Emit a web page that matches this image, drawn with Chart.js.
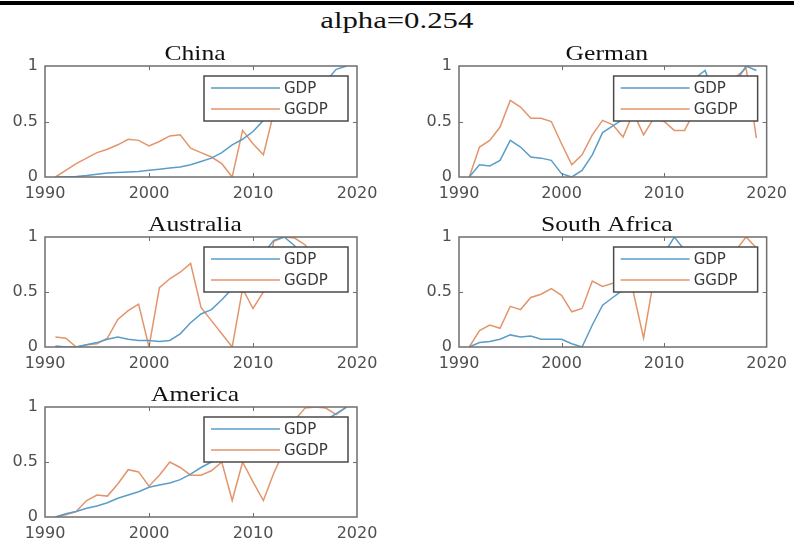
<!DOCTYPE html>
<html>
<head>
<meta charset="utf-8">
<script src="https://cdn.jsdelivr.net/npm/chart.js@4.4.1/dist/chart.umd.min.js"></script>
<style>
  html, body { margin: 0; padding: 0; background: #fff; overflow: hidden; }
  #page { position: relative; width: 794px; height: 545px; background: #fff; }
  #rule { position: absolute; left: 0; top: 1px; width: 794px; height: 4px; background: #000; }
  #suptitle { position: absolute; left: 0; top: 7px; width: 794px; text-align: center;
              font: 24px "Liberation Serif", serif; color: #111; }
  #suptitle span { display: inline-block; transform: scaleX(1.28); }
  canvas { position: absolute; }
</style>
</head>
<body>
<div id="page">
  <div id="rule"></div>
  <div id="suptitle"><span>alpha=0.254</span></div>
  <canvas id="c0"></canvas>
  <canvas id="c1"></canvas>
  <canvas id="c2"></canvas>
  <canvas id="c3"></canvas>
  <canvas id="c4"></canvas>
</div>
<script>
// Years covered by every series
const years = [1991, 1992, 1993, 1994, 1995, 1996, 1997, 1998, 1999, 2000,
               2001, 2002, 2003, 2004, 2005, 2006, 2007, 2008, 2009, 2010,
               2011, 2012, 2013, 2014, 2015, 2016, 2017, 2018, 2019];

// Axis ticks
const xTicks = [1990, 2000, 2010, 2020];
const yTicks = [0, 0.5, 1];

// Series names
const seriesNames = ['GDP', 'GGDP'];

// Normalised series per country
const chinaGDP  = [0, 0.003, 0.004, 0.013, 0.025, 0.035, 0.04, 0.046, 0.05, 0.06,
                   0.07, 0.08, 0.09, 0.11, 0.14, 0.17, 0.22, 0.29, 0.34, 0.41,
                   0.51, 0.58, 0.66, 0.73, 0.77, 0.78, 0.86, 0.97, 1.0];
const chinaGGDP = [0, 0.06, 0.12, 0.17, 0.22, 0.25, 0.29, 0.34, 0.33, 0.28,
                   0.32, 0.37, 0.38, 0.26, 0.22, 0.18, 0.12, 0, 0.42, 0.3,
                   0.2, 0.58, 0.62, 0.7, 0.74, 0.72, 0.8, 0.86, 0.9];

const germanGDP  = [0, 0.11, 0.10, 0.15, 0.33, 0.27, 0.18, 0.17, 0.15, 0.03,
                    0, 0.06, 0.2, 0.4, 0.46, 0.52, 0.72, 0.89, 0.73, 0.73,
                    0.89, 0.79, 0.89, 0.96, 0.71, 0.76, 0.86, 1.0, 0.96];
const germanGGDP = [0, 0.27, 0.33, 0.45, 0.69, 0.63, 0.53, 0.53, 0.5, 0.3,
                    0.11, 0.2, 0.38, 0.51, 0.47, 0.36, 0.58, 0.38, 0.53, 0.5,
                    0.42, 0.42, 0.6, 0.7, 0.75, 0.8, 0.9, 0.98, 0.35];

const australiaGDP  = [0.01, 0, 0, 0.02, 0.04, 0.07, 0.09, 0.07, 0.06, 0.06,
                       0.05, 0.06, 0.12, 0.22, 0.3, 0.34, 0.43, 0.53, 0.5, 0.65,
                       0.85, 0.97, 1.0, 0.92, 0.75, 0.74, 0.83, 0.88, 0.82];
const australiaGGDP = [0.09, 0.08, 0, 0.02, 0.03, 0.08, 0.25, 0.33, 0.39, 0,
                       0.54, 0.62, 0.68, 0.76, 0.36, 0.24, 0.12, 0, 0.53, 0.35,
                       0.5, 0.96, 1.0, 0.99, 0.93, 0.8, 0.75, 0.7, 0.72];

const southAfricaGDP  = [0, 0.04, 0.05, 0.07, 0.11, 0.09, 0.1, 0.07, 0.07, 0.07,
                         0.03, 0, 0.2, 0.38, 0.45, 0.52, 0.6, 0.55, 0.6, 0.85,
                         1.0, 0.88, 0.8, 0.74, 0.6, 0.53, 0.68, 0.74, 0.68];
const southAfricaGGDP = [0, 0.15, 0.2, 0.17, 0.37, 0.34, 0.45, 0.48, 0.53, 0.47,
                         0.32, 0.35, 0.6, 0.55, 0.58, 0.6, 0.5, 0.08, 0.62, 0.7,
                         0.75, 0.65, 0.8, 0.7, 0.75, 0.85, 0.88, 1.0, 0.9];

const americaGDP  = [0, 0.03, 0.05, 0.08, 0.1, 0.13, 0.17, 0.2, 0.23, 0.27,
                     0.29, 0.31, 0.34, 0.39, 0.45, 0.5, 0.55, 0.56, 0.55, 0.58,
                     0.62, 0.66, 0.7, 0.75, 0.79, 0.82, 0.88, 0.94, 1.0];
const americaGGDP = [0, 0.02, 0.05, 0.15, 0.2, 0.19, 0.3, 0.43, 0.41, 0.28,
                     0.38, 0.5, 0.45, 0.38, 0.38, 0.42, 0.5, 0.15, 0.5, 0.32,
                     0.15, 0.4, 0.6, 0.88, 0.99, 1.0, 0.99, 0.93, 1.0];

// Panel titles
const panelTitles = ['China', 'German', 'Australia', 'South Africa', 'America'];

const seriesColors = ['#5a9dc9', '#e2956c'];

Chart.defaults.font.family = '"DejaVu Sans", sans-serif';

// MATLAB-style axes: framed box, inward ticks, boxed legend, panel title
const matlabFrame = {
  id: 'matlabFrame',
  afterDatasetsDraw(chart, args, opts) {
    const { ctx, chartArea: a, scales } = chart;
    const x = scales.x, y = scales.y;
    ctx.save();

    // legend box
    const lw = 144, lh = 45;
    const lx = a.right - 9 - lw, ly = a.top + 10;
    ctx.fillStyle = '#fff';
    ctx.fillRect(lx, ly, lw, lh);
    ctx.strokeStyle = '#4a4a4a';
    ctx.lineWidth = 1.5;
    ctx.strokeRect(lx, ly, lw, lh);
    chart.data.datasets.forEach((ds, i) => {
      const ry = ly + 12 + i * 21;
      ctx.strokeStyle = ds.borderColor;
      ctx.lineWidth = ds.borderWidth;
      ctx.beginPath();
      ctx.moveTo(lx + 7, ry);
      ctx.lineTo(lx + 76, ry);
      ctx.stroke();
      ctx.fillStyle = '#3a3a3a';
      ctx.font = '15px "DejaVu Sans"';
      ctx.textAlign = 'left';
      ctx.textBaseline = 'middle';
      ctx.fillText(ds.label, lx + 80, ry + 1);
    });

    // axes frame
    ctx.strokeStyle = '#6e6e6e';
    ctx.lineWidth = 1.5;
    ctx.strokeRect(a.left, a.top, a.right - a.left, a.bottom - a.top);

    // inward tick marks
    ctx.lineWidth = 1;
    ctx.beginPath();
    xTicks.forEach(v => {
      if (v <= x.min || v >= x.max) return;
      const px = Math.round(x.getPixelForValue(v)) + 0.5;
      ctx.moveTo(px, a.bottom); ctx.lineTo(px, a.bottom - 4);
      ctx.moveTo(px, a.top); ctx.lineTo(px, a.top + 4);
    });
    yTicks.forEach(v => {
      if (v <= y.min || v >= y.max) return;
      const py = Math.round(y.getPixelForValue(v)) + 0.5;
      ctx.moveTo(a.left, py); ctx.lineTo(a.left + 4, py);
      ctx.moveTo(a.right, py); ctx.lineTo(a.right - 4, py);
    });
    ctx.stroke();

    // panel title
    ctx.translate((a.left + a.right) / 2 - 6, a.top - 6);
    ctx.scale(1.22, 1);
    ctx.font = '21px "Liberation Serif"';
    ctx.fillStyle = '#111';
    ctx.textAlign = 'center';
    ctx.textBaseline = 'alphabetic';
    ctx.fillText(opts.text, 0, 0);
    ctx.restore();
  }
};

const panels = [
  { id: 'c0', title: panelTitles[0], gdp: chinaGDP,       ggdp: chinaGGDP,       left: 0,   top: 40,  width: 390, height: 165, plotH: 111, axisW: 45, padR: 33 },
  { id: 'c1', title: panelTitles[1], gdp: germanGDP,      ggdp: germanGGDP,      left: 415, top: 40,  width: 379, height: 165, plotH: 111, axisW: 44, padR: 22 },
  { id: 'c2', title: panelTitles[2], gdp: australiaGDP,   ggdp: australiaGGDP,   left: 0,   top: 211, width: 390, height: 164, plotH: 110, axisW: 45, padR: 33 },
  { id: 'c3', title: panelTitles[3], gdp: southAfricaGDP, ggdp: southAfricaGGDP, left: 415, top: 211, width: 379, height: 164, plotH: 110, axisW: 44, padR: 22 },
  { id: 'c4', title: panelTitles[4], gdp: americaGDP,     ggdp: americaGGDP,     left: 0,   top: 381, width: 390, height: 164, plotH: 110, axisW: 45, padR: 33 }
];

const padTop = 26;

panels.forEach(p => {
  const cv = document.getElementById(p.id);
  cv.width = p.width; cv.height = p.height;
  cv.style.left = p.left + 'px'; cv.style.top = p.top + 'px';
  cv.style.width = p.width + 'px'; cv.style.height = p.height + 'px';

  const series = [p.gdp, p.ggdp];
  new Chart(cv, {
    type: 'line',
    data: {
      datasets: series.map((vals, k) => ({
        label: seriesNames[k],
        data: years.map((yr, i) => ({ x: yr, y: vals[i] })),
        borderColor: seriesColors[k],
        borderWidth: 1.5,
        pointRadius: 0,
        tension: 0,
        fill: false
      }))
    },
    options: {
      responsive: false,
      animation: false,
      devicePixelRatio: 1,
      events: [],
      layout: { padding: { left: 0, right: p.padR, top: padTop, bottom: 0 } },
      plugins: {
        legend: { display: false },
        tooltip: { enabled: false },
        title: { display: false },
        matlabFrame: { text: p.title }
      },
      scales: {
        x: {
          type: 'linear', min: xTicks[0], max: xTicks[xTicks.length - 1],
          afterBuildTicks: s => { s.ticks = xTicks.map(v => ({ value: v })); },
          afterFit: s => { s.height = p.height - padTop - p.plotH; },
          ticks: { padding: 7, color: '#4f4f4f', font: { size: 16 }, maxRotation: 0,
                   autoSkip: false, callback: v => String(v) },
          grid: { display: false, drawTicks: false, tickLength: 0 },
          border: { display: false }
        },
        y: {
          type: 'linear', min: yTicks[0], max: yTicks[yTicks.length - 1],
          afterBuildTicks: s => { s.ticks = yTicks.map(v => ({ value: v })); },
          afterFit: s => { s.width = p.axisW; },
          ticks: { padding: 7, color: '#4f4f4f', font: { size: 16 },
                   autoSkip: false, callback: v => String(v) },
          grid: { display: false, drawTicks: false, tickLength: 0 },
          border: { display: false }
        }
      }
    },
    plugins: [matlabFrame]
  });
});
</script>
</body>
</html>
